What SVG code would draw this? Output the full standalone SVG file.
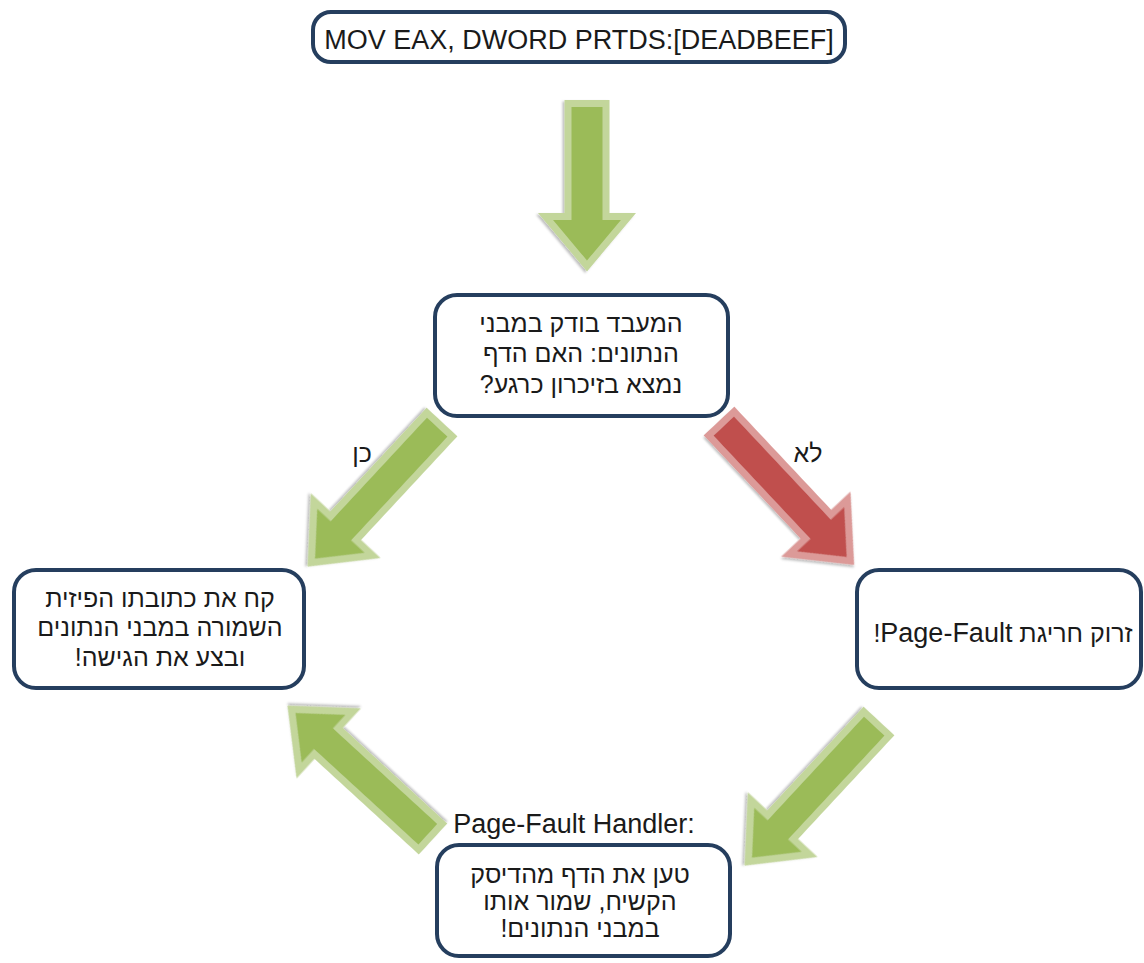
<svg xmlns="http://www.w3.org/2000/svg" width="1144" height="963" viewBox="0 0 1144 963">
<style>
.box{fill:#ffffff;stroke:#253e5e;stroke-width:4}
.t{font-family:"Liberation Sans","DejaVu Sans",Arial,sans-serif;fill:#1a1a1a;text-anchor:middle}
.he{font-size:25px;direction:rtl;unicode-bidi:embed}
.ga{fill:#9bbb59;stroke:#c3d69b;stroke-width:7;stroke-linejoin:miter}
.ra{fill:#c0504d;stroke:#dc9a98;stroke-width:7;stroke-linejoin:miter}
</style>
<defs>
<filter id="sh" x="-20%" y="-20%" width="140%" height="140%">
<feDropShadow dx="1.5" dy="2" stdDeviation="1.2" flood-color="#000" flood-opacity="0.25"/>
</filter>
<path id="diag" d="M3.5,-17.5 L145,-17.5 L145,-40 L192,0 L145,40 L145,17.5 L3.5,17.5 Z"/>
</defs>

<g id="connectors">
<path class="ga" filter="url(#sh)" transform="translate(587,100) rotate(90)" d="M3.5,-19 L116.5,-19 L116.5,-41.5 L166,0 L116.5,41.5 L116.5,19 L3.5,19 Z"/>
<use href="#diag" class="ga" filter="url(#sh)" transform="translate(442,422) rotate(132.9)"/>
<use href="#diag" class="ra" filter="url(#sh)" transform="translate(719,421) rotate(46.8)"/>
<use href="#diag" class="ga" filter="url(#sh)" transform="translate(879,721) rotate(132.9)"/>
<use href="#diag" class="ga" filter="url(#sh)" transform="translate(433,839) rotate(-137.5)"/>
<text class="t he" x="362" y="462">כן</text>
<text class="t he" x="808" y="462">לא</text>
<text class="t" x="574" y="833" font-size="27">Page-Fault Handler:</text>
</g>

<g id="node-top">
<rect class="box" x="313" y="12" width="532" height="50" rx="18"/>
<text class="t" x="579" y="49" font-size="27">MOV EAX, DWORD PRTDS:[DEADBEEF]</text>
</g>

<g id="node-check">
<rect class="box" x="435" y="295" width="293" height="121" rx="22"/>
<text class="t he" x="581" y="332">המעבד בודק במבני</text>
<text class="t he" x="581" y="362">הנתונים: האם הדף</text>
<text class="t he" x="581" y="393">נמצא בזיכרון כרגע?</text>
</g>

<g id="node-yes">
<rect class="box" x="14" y="570" width="290" height="118" rx="22"/>
<text class="t he" x="160" y="607">קח את כתובתו הפיזית</text>
<text class="t he" x="160" y="636">השמורה במבני הנתונים</text>
<text class="t he" x="160" y="666">ובצע את הגישה!</text>
</g>

<g id="node-no">
<rect class="box" x="857" y="570" width="284" height="118" rx="22"/>
<text class="t he" x="1003" y="642">זרוק חריגת <tspan font-size="27">Page-Fault</tspan>!</text>
</g>

<g id="node-handler">
<rect class="box" x="437" y="845" width="293" height="111" rx="22"/>
<text class="t he" x="580" y="883">טען את הדף מהדיסק</text>
<text class="t he" x="580" y="910">הקשיח, שמור אותו</text>
<text class="t he" x="580" y="937">במבני הנתונים!</text>
</g>
</svg>
